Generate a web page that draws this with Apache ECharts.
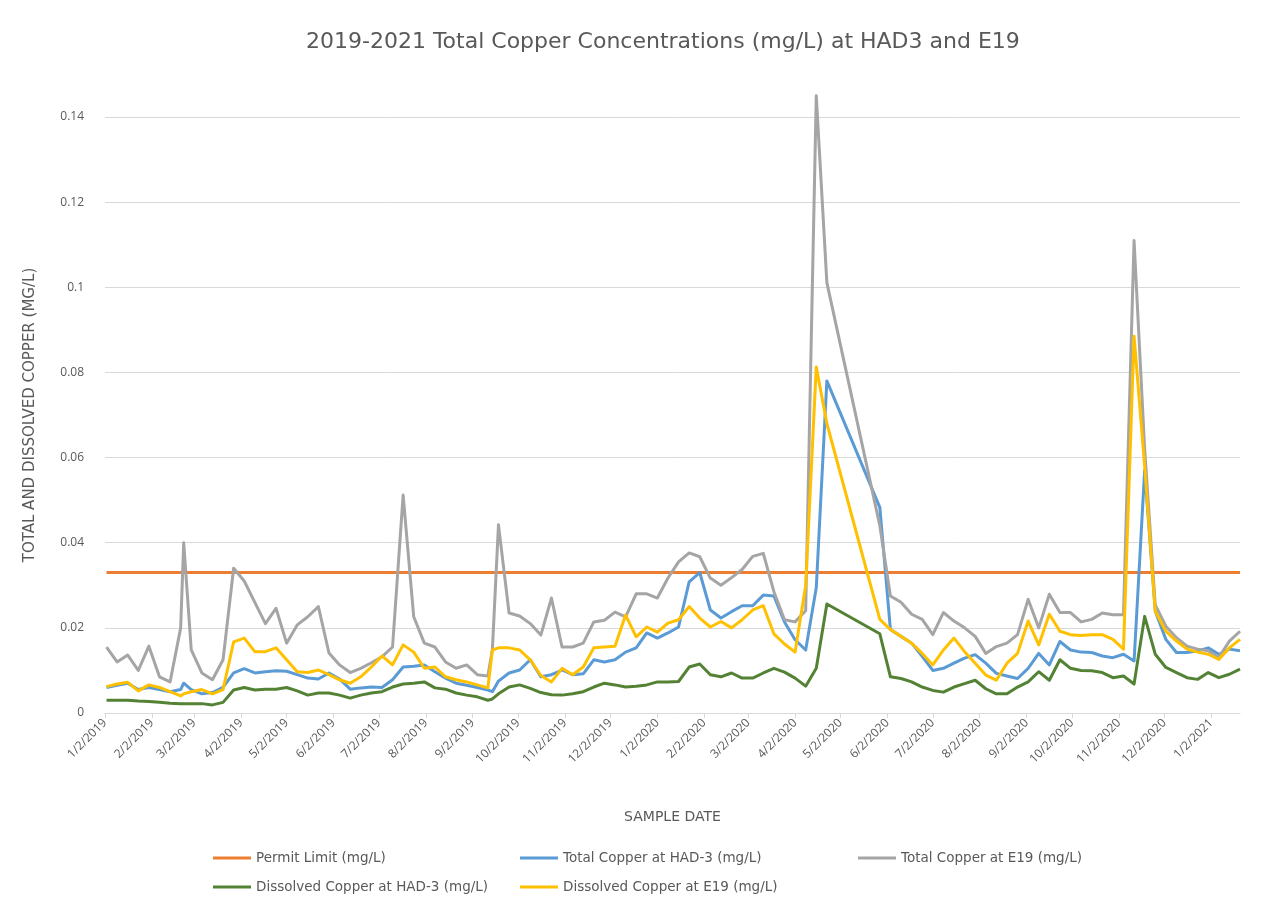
<!DOCTYPE html>
<html>
<head>
<meta charset="utf-8">
<script src="https://cdn.jsdelivr.net/npm/echarts@6/dist/echarts.min.js"></script>
<style>
html,body{margin:0;padding:0;background:#fff;}
#chart{width:1275px;height:920px;}
</style>
</head>
<body>
<div id="chart"></div>
<script>
const dates = [
'2019-01-02','2019-01-09','2019-01-16','2019-01-23','2019-01-30','2019-02-06','2019-02-13','2019-02-20','2019-02-22',
'2019-02-27','2019-03-06','2019-03-13','2019-03-20','2019-03-27','2019-04-03','2019-04-10','2019-04-17','2019-04-24',
'2019-05-01','2019-05-08','2019-05-15','2019-05-22','2019-05-29','2019-06-05','2019-06-12','2019-06-19','2019-06-26',
'2019-07-03','2019-07-10','2019-07-17','2019-07-24','2019-07-31','2019-08-07','2019-08-14','2019-08-21','2019-08-28',
'2019-09-04','2019-09-11','2019-09-14',
'2019-09-18','2019-09-25','2019-10-02','2019-10-09','2019-10-16','2019-10-23','2019-10-30','2019-11-06','2019-11-13',
'2019-11-20','2019-11-27','2019-12-04','2019-12-11','2019-12-18','2019-12-25','2020-01-01','2020-01-08','2020-01-15',
'2020-01-22','2020-01-29','2020-02-05','2020-02-12','2020-02-19','2020-02-26','2020-03-04','2020-03-11','2020-03-18',
'2020-03-25','2020-04-01','2020-04-08','2020-04-15','2020-04-22',
'2020-05-27','2020-06-03','2020-06-10','2020-06-17','2020-06-24','2020-07-01','2020-07-08','2020-07-15','2020-07-22',
'2020-07-29','2020-08-05','2020-08-12','2020-08-19','2020-08-26','2020-09-02','2020-09-09','2020-09-16','2020-09-23',
'2020-09-30','2020-10-07','2020-10-14','2020-10-21','2020-10-28','2020-11-04','2020-11-11','2020-11-18','2020-11-25',
'2020-12-02','2020-12-09','2020-12-16','2020-12-23','2020-12-30','2021-01-06','2021-01-13','2021-01-20'
];

const totalHAD3 = [
0.006,0.0065,0.007,0.0055,0.006,0.0055,0.005,0.0055,0.007,
0.0055,0.0045,0.0048,0.006,0.0094,0.0104,0.0094,0.0097,0.0099,
0.0098,0.009,0.0082,0.008,0.0094,0.008,0.0056,0.0059,0.0061,
0.006,0.0078,0.0108,0.011,0.0113,0.0097,0.0082,0.007,0.0065,
0.006,0.0054,0.005,
0.0075,0.0094,0.0101,0.0125,0.0085,0.009,0.0101,0.009,0.0092,
0.0125,0.012,0.0125,0.0143,0.0153,0.0188,0.0176,0.0188,0.0202,
0.0308,0.033,0.0242,0.0223,0.0238,0.0252,0.0252,0.0277,0.0275,
0.0214,0.0172,0.0148,0.0294,0.078,
0.0483,0.0196,0.018,0.0164,0.0133,0.010,0.0105,0.0117,0.0129,
0.0137,0.0117,0.0093,0.0087,0.0081,0.0105,0.014,0.0113,0.0168,
0.0148,0.0143,0.0142,0.0134,0.013,0.0138,0.0122,0.057,0.0239,
0.0173,0.0142,0.0142,0.0146,0.0153,0.0138,0.015,0.0146
];

const totalE19 = [
0.0155,0.012,0.0136,0.010,0.0157,0.0085,0.0073,0.020,0.040,
0.0148,0.0094,0.0078,0.0125,0.034,0.031,0.026,0.021,0.0246,
0.0164,0.0207,0.0226,0.025,0.0141,0.0113,0.0095,0.0105,0.0118,
0.0132,0.0155,0.0512,0.0226,0.0164,0.0155,0.012,0.0105,0.0113,
0.009,0.0087,0.015,
0.0442,0.0235,0.0228,0.021,0.0183,0.027,0.0155,0.0155,0.0164,
0.0214,0.0218,0.0237,0.0226,0.028,0.028,0.027,0.0317,0.0355,
0.0376,0.0367,0.0317,0.030,0.0318,0.0337,0.0368,0.0375,0.0285,
0.0219,0.0214,0.024,0.145,0.1011,
0.044,0.0275,0.026,0.0232,0.022,0.0184,0.0236,0.0216,0.020,
0.018,0.014,0.0156,0.0164,0.0184,0.0267,0.020,0.0279,0.0236,
0.0236,0.0214,0.022,0.0235,0.0231,0.0231,0.111,0.062,0.0254,
0.0204,0.0177,0.0157,0.015,0.0146,0.013,0.0169,0.0192
];

const dissolvedHAD3 = [
0.003,0.003,0.003,0.0028,0.0027,0.0025,0.0023,0.0022,0.0022,
0.0022,0.0022,0.0019,0.0025,0.0054,0.006,0.0054,0.0056,0.0056,
0.006,0.0052,0.0042,0.0047,0.0047,0.0042,0.0035,0.0042,0.0047,
0.005,0.0061,0.0068,0.007,0.0073,0.0059,0.0056,0.0047,0.0042,
0.0038,0.003,0.0033,
0.0045,0.0061,0.0066,0.0058,0.0048,0.0043,0.0042,0.0045,0.005,
0.0061,0.007,0.0066,0.0061,0.0063,0.0066,0.0073,0.0073,0.0074,
0.0108,0.0115,0.009,0.0085,0.0094,0.0082,0.0082,0.0094,0.0105,
0.0096,0.0082,0.0063,0.0105,0.0256,
0.0186,0.0085,0.0081,0.0073,0.0061,0.0053,0.0049,0.0061,0.0069,
0.0077,0.0057,0.0045,0.0045,0.0061,0.0073,0.0097,0.0077,0.0125,
0.0105,0.0100,0.0099,0.0095,0.0083,0.0087,0.0068,0.0227,0.0138,
0.0107,0.0095,0.0083,0.0079,0.0095,0.0083,0.0091,0.0103
];

const dissolvedE19 = [
0.0062,0.0068,0.0072,0.0052,0.0066,0.006,0.005,0.004,0.0045,
0.005,0.0055,0.0045,0.0055,0.0167,0.0176,0.0144,0.0144,0.0153,
0.0125,0.0097,0.0095,0.0101,0.009,0.0078,0.007,0.0085,0.0108,
0.0134,0.0113,0.016,0.0143,0.0105,0.0108,0.0085,0.0078,0.0073,
0.0066,0.0059,0.0148,
0.0153,0.0153,0.0148,0.0125,0.0088,0.0073,0.0105,0.009,0.0108,
0.0153,0.0155,0.0157,0.023,0.0179,0.0202,0.019,0.0211,0.0219,
0.025,0.0223,0.0202,0.0215,0.020,0.0219,0.0242,0.0252,0.0186,
0.0162,0.0143,0.030,0.0813,0.068,
0.022,0.0196,0.018,0.0164,0.014,0.0113,0.0148,0.0176,0.0144,
0.0117,0.0089,0.0077,0.0117,0.014,0.0216,0.016,0.0232,0.0192,
0.0184,0.0182,0.0184,0.0184,0.0173,0.015,0.0885,0.058,0.0239,
0.0192,0.0169,0.015,0.0143,0.0138,0.0126,0.0153,0.0173
];

const permitLimit = 0.033;

const xTickLabels = [
'1/2/2019','2/2/2019','3/2/2019','4/2/2019','5/2/2019','6/2/2019','7/2/2019','8/2/2019','9/2/2019','10/2/2019','11/2/2019','12/2/2019',
'1/2/2020','2/2/2020','3/2/2020','4/2/2020','5/2/2020','6/2/2020','7/2/2020','8/2/2020','9/2/2020','10/2/2020','11/2/2020','12/2/2020',
'1/2/2021'
];

const seriesNames = [
'Permit Limit (mg/L)',
'Total Copper at HAD-3 (mg/L)',
'Total Copper at E19 (mg/L)',
'Dissolved Copper at HAD-3 (mg/L)',
'Dissolved Copper at E19 (mg/L)'
];
const colors = ['#ED7D31','#5B9BD5','#A5A5A5','#548235','#FFC000'];

const FONT = 'Open Sans';
const WIDE = 'DejaVu Sans';
const TXT = '#595959';

function pairs(vals){ return dates.map((d,i)=>[d, vals[i]]); }

const chart = echarts.init(document.getElementById('chart'), null, {renderer:'canvas'});

const legendBase = {
  orient:'horizontal', itemWidth:38, itemHeight:3,
  textStyle:{color:TXT, fontFamily:WIDE, fontSize:13.5}, padding:0, selectedMode:false
};

function mkSeries(idx, data, extra){
  return Object.assign({
    name: seriesNames[idx], type:'line', data: data,
    symbol:'none', showSymbol:false,
    lineStyle:{color:colors[idx], width:3, join:'round'},
    itemStyle:{color:colors[idx]},
    emphasis:{disabled:true}, animation:false
  }, extra||{});
}

chart.setOption({
  animation:false,
  color: colors,
  title:{
    text:'2019-2021 Total Copper Concentrations (mg/L) at HAD3 and E19',
    left:301, top:26,
    textStyle:{color:TXT, fontFamily:WIDE, fontSize:22, fontWeight:'normal'}
  },
  legend:[
    Object.assign({}, legendBase, {data:[{name:seriesNames[0], icon:'rect'}], left:213, top:851}),
    Object.assign({}, legendBase, {data:[{name:seriesNames[1], icon:'rect'}], left:520, top:851}),
    Object.assign({}, legendBase, {data:[{name:seriesNames[2], icon:'rect'}], left:858, top:851}),
    Object.assign({}, legendBase, {data:[{name:seriesNames[3], icon:'rect'}], left:213, top:880}),
    Object.assign({}, legendBase, {data:[{name:seriesNames[4], icon:'rect'}], left:520, top:880})
  ],
  grid:{left:105, right:35, top:117, bottom:207, containLabel:false},
  xAxis:{
    type:'time',
    min:'2019-01-01', max:dates[dates.length-1],
    minInterval: 28*86400000, maxInterval: 31*86400000, splitNumber: 30,
    name:'SAMPLE DATE', nameLocation:'middle', nameGap:97,
    nameTextStyle:{color:TXT, fontFamily:WIDE, fontSize:14},
    axisLine:{show:true, lineStyle:{color:'#D9D9D9', width:1}},
    axisTick:{show:true, length:5, lineStyle:{color:'#D9D9D9'}},
    splitLine:{show:false},
    axisLabel:{
      rotate:45, color:TXT, fontFamily:FONT, fontSize:12, margin:8, interval:0, hideOverlap:false,
      formatter:function(v){
        const d = new Date(v);
        const idx = (d.getFullYear()-2019)*12 + d.getMonth();
        return xTickLabels[idx] || '';
      }
    }
  },
  yAxis:{
    type:'value', min:0, max:0.14, interval:0.02,
    name:'TOTAL AND DISSOLVED COPPER (MG/L)', nameLocation:'middle', nameGap:67, nameRotate:90,
    nameTextStyle:{color:TXT, fontFamily:WIDE, fontSize:15},
    axisLine:{show:false}, axisTick:{show:false},
    splitLine:{show:true, lineStyle:{color:'#D9D9D9', width:1}},
    axisLabel:{color:TXT, fontFamily:FONT, fontSize:12, margin:21}
  },
  series:[
    mkSeries(0, [[dates[0], permitLimit],[dates[dates.length-1], permitLimit]]),
    mkSeries(1, pairs(totalHAD3)),
    mkSeries(2, pairs(totalE19), {clip:false}),
    mkSeries(3, pairs(dissolvedHAD3)),
    mkSeries(4, pairs(dissolvedE19))
  ]
});
</script>
</body>
</html>
